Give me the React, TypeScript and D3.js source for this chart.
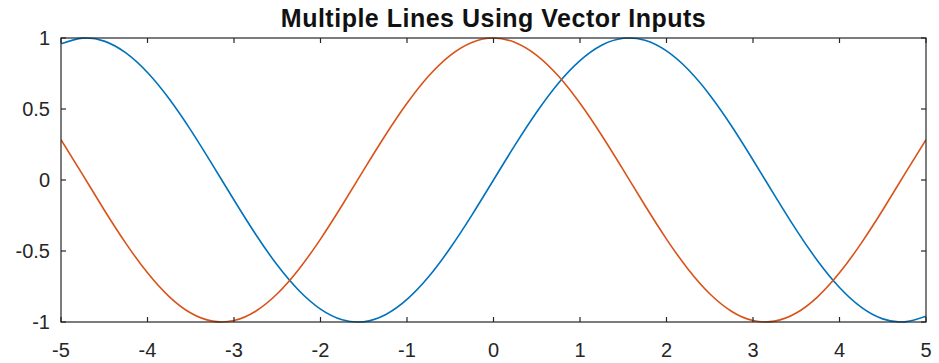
import React from "react";
import * as d3 from "d3";

const xs = [-5, -4.75, -4.5, -4.25, -4, -3.75, -3.5, -3.25, -3, -2.75, -2.5, -2.25, -2, -1.75, -1.5, -1.25, -1, -0.75, -0.5, -0.25, 0, 0.25, 0.5, 0.75, 1, 1.25, 1.5, 1.75, 2, 2.25, 2.5, 2.75, 3, 3.25, 3.5, 3.75, 4, 4.25, 4.5, 4.75, 5];
const sinValues = [0.959, 0.999, 0.978, 0.895, 0.757, 0.572, 0.351, 0.108, -0.141, -0.382, -0.599, -0.778, -0.909, -0.984, -0.998, -0.949, -0.841, -0.682, -0.479, -0.247, 0, 0.247, 0.479, 0.682, 0.841, 0.949, 0.998, 0.984, 0.909, 0.778, 0.599, 0.382, 0.141, -0.108, -0.351, -0.572, -0.757, -0.895, -0.978, -0.999, -0.959];
const cosValues = [0.284, 0.038, -0.211, -0.446, -0.654, -0.821, -0.937, -0.994, -0.990, -0.924, -0.801, -0.628, -0.416, -0.178, 0.071, 0.315, 0.540, 0.732, 0.878, 0.969, 1, 0.969, 0.878, 0.732, 0.540, 0.315, 0.071, -0.178, -0.416, -0.628, -0.801, -0.924, -0.990, -0.994, -0.937, -0.821, -0.654, -0.446, -0.211, 0.038, 0.284];
const xTicks = [-5, -4, -3, -2, -1, 0, 1, 2, 3, 4, 5];
const yTicks = [-1, -0.5, 0, 0.5, 1];
const title = "Multiple Lines Using Vector Inputs";

const W = 939, H = 363;
const L = 61, R = 926, T = 38, B = 322;
const axisColor = "#262626";
const font = "'Liberation Sans', Arial, Helvetica, sans-serif";

export default function App() {
  const x = d3.scaleLinear().domain([-5, 5]).range([L, R]);
  const y = d3.scaleLinear().domain([-1, 1]).range([B, T]);
  const line = d3.line<number>().x((_, i) => x(xs[i])).y((d) => y(d)).curve(d3.curveNatural);
  const tl = 5;
  return (
    <svg width={W} height={H} style={{ position: "absolute", left: 0, top: 0, background: "#fff" }}>
      <defs>
        <clipPath id="plot"><rect x={L} y={T - 2} width={R - L} height={B - T + 4} /></clipPath>
      </defs>
      <text x={(L + R) / 2} y={27} textAnchor="middle" fontFamily={font} fontWeight="bold" fontSize={25} letterSpacing={0.5} fill="#111">{title}</text>
      <g clipPath="url(#plot)" fill="none" strokeWidth={1.6}>
        <path d={line(sinValues) || ""} stroke="#0072BD" />
        <path d={line(cosValues) || ""} stroke="#D95319" />
      </g>
      <rect x={L} y={T} width={R - L} height={B - T} fill="none" stroke={axisColor} strokeWidth={1.2} />
      {xTicks.map((t) => (
        <g key={"x" + t}>
          <line x1={x(t)} x2={x(t)} y1={B} y2={B - tl} stroke={axisColor} strokeWidth={1.2} />
          <line x1={x(t)} x2={x(t)} y1={T} y2={T + tl} stroke={axisColor} strokeWidth={1.2} />
          <text x={x(t)} y={357} textAnchor="middle" fontFamily={font} fontSize={20} fill={axisColor}>{t}</text>
        </g>
      ))}
      {yTicks.map((t) => (
        <g key={"y" + t}>
          <line x1={L} x2={L + tl} y1={y(t)} y2={y(t)} stroke={axisColor} strokeWidth={1.2} />
          <line x1={R} x2={R - tl} y1={y(t)} y2={y(t)} stroke={axisColor} strokeWidth={1.2} />
          <text x={50} y={y(t) + 7} textAnchor="end" fontFamily={font} fontSize={20} fill={axisColor}>{t}</text>
        </g>
      ))}
    </svg>
  );
}
